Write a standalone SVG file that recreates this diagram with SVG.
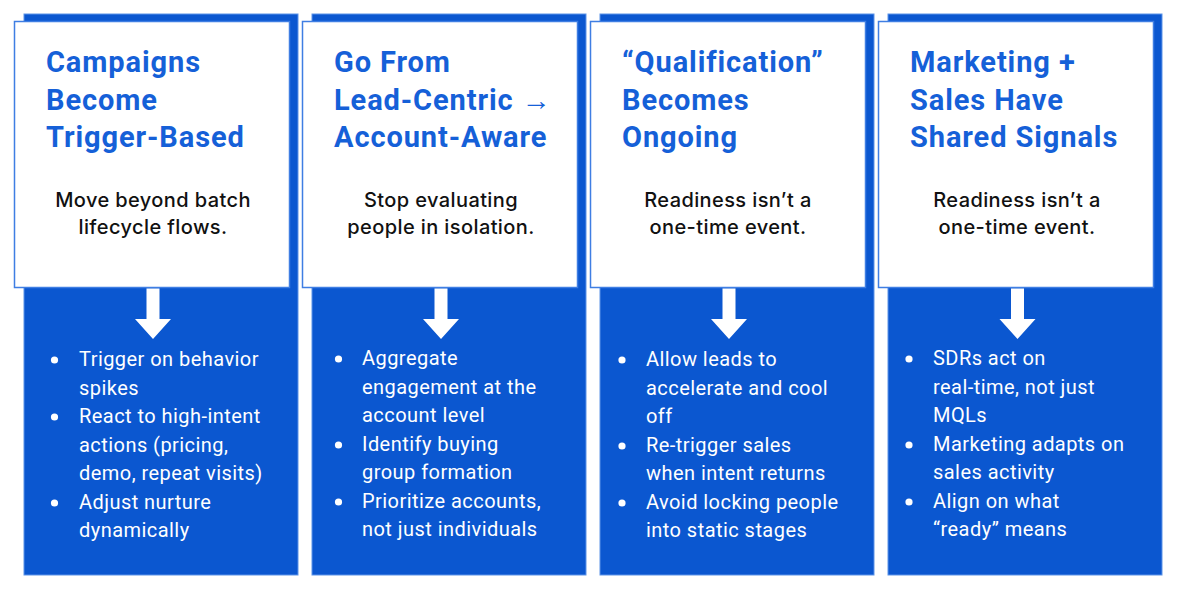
<svg xmlns="http://www.w3.org/2000/svg" width="1180" height="591" viewBox="0 0 1180 591">
<style>
.bg{fill:#0b57d0;stroke:#5d93e8;stroke-width:1}
.card{fill:#ffffff;stroke:#3f7ee3;stroke-width:1.5}
.title{font-family:Roboto,"Liberation Sans",sans-serif;font-weight:700;font-size:29px;letter-spacing:0.9px;fill:#1560d8}
.sub{font-family:Inter,Roboto,"Liberation Sans",sans-serif;font-weight:500;font-size:20px;letter-spacing:0.4px;fill:#111111;text-anchor:middle}
.item{font-family:Roboto,"Liberation Sans",sans-serif;font-weight:400;font-size:20px;letter-spacing:0.45px;fill:#ffffff}
.dot{fill:#ffffff}
.arrow{fill:#ffffff}
</style>
<rect width="1180" height="591" fill="#ffffff"/>

<g id="col1">
<rect class="bg" x="24" y="14" width="274" height="561"/>
<rect class="card" x="14.5" y="21.5" width="275" height="266"/>
<text class="title"><tspan x="46" y="72">Campaigns</tspan><tspan x="46" y="109.5">Become</tspan><tspan x="46" y="147">Trigger-Based</tspan></text>
<text class="sub"><tspan x="153" y="207">Move beyond batch</tspan><tspan x="153" y="234">lifecycle flows.</tspan></text>
<g>
<circle class="dot" cx="54.5" cy="360" r="3.6"/>
<circle class="dot" cx="54.5" cy="417" r="3.6"/>
<circle class="dot" cx="54.5" cy="503" r="3.6"/>
<text class="item"><tspan x="79" y="366">Trigger on behavior</tspan><tspan x="79" y="394.5">spikes</tspan><tspan x="79" y="423">React to high-intent</tspan><tspan x="79" y="451.5">actions (pricing,</tspan><tspan x="79" y="480">demo, repeat visits)</tspan><tspan x="79" y="508.5">Adjust nurture</tspan><tspan x="79" y="537">dynamically</tspan></text>
</g>
</g>

<g id="col2">
<rect class="bg" x="312" y="14" width="274" height="561"/>
<rect class="card" x="302.5" y="21.5" width="275" height="266"/>
<text class="title"><tspan x="334" y="72">Go From</tspan><tspan x="334" y="109.5">Lead-Centric →</tspan><tspan x="334" y="147">Account-Aware</tspan></text>
<text class="sub"><tspan x="441" y="207">Stop evaluating</tspan><tspan x="441" y="234">people in isolation.</tspan></text>
<g>
<circle class="dot" cx="338.5" cy="359" r="3.6"/>
<circle class="dot" cx="338.5" cy="445" r="3.6"/>
<circle class="dot" cx="338.5" cy="502" r="3.6"/>
<text class="item"><tspan x="362" y="365">Aggregate</tspan><tspan x="362" y="393.5">engagement at the</tspan><tspan x="362" y="422">account level</tspan><tspan x="362" y="450.5">Identify buying</tspan><tspan x="362" y="479">group formation</tspan><tspan x="362" y="507.5">Prioritize accounts,</tspan><tspan x="362" y="536">not just individuals</tspan></text>
</g>
</g>

<g id="col3">
<rect class="bg" x="600" y="14" width="274" height="561"/>
<rect class="card" x="590.5" y="21.5" width="275" height="266"/>
<text class="title"><tspan x="622" y="72">“Qualification”</tspan><tspan x="622" y="109.5">Becomes</tspan><tspan x="622" y="147">Ongoing</tspan></text>
<text class="sub"><tspan x="728" y="207">Readiness isn’t a</tspan><tspan x="728" y="234">one-time event.</tspan></text>
<g>
<circle class="dot" cx="622" cy="360" r="3.6"/>
<circle class="dot" cx="622" cy="446" r="3.6"/>
<circle class="dot" cx="622" cy="503" r="3.6"/>
<text class="item"><tspan x="646" y="366">Allow leads to</tspan><tspan x="646" y="394.5">accelerate and cool</tspan><tspan x="646" y="423">off</tspan><tspan x="646" y="451.5">Re-trigger sales</tspan><tspan x="646" y="480">when intent returns</tspan><tspan x="646" y="508.5">Avoid locking people</tspan><tspan x="646" y="537">into static stages</tspan></text>
</g>
</g>

<g id="col4">
<rect class="bg" x="888" y="14" width="274" height="561"/>
<rect class="card" x="878.5" y="21.5" width="275" height="266"/>
<text class="title"><tspan x="910" y="72">Marketing +</tspan><tspan x="910" y="109.5">Sales Have</tspan><tspan x="910" y="147">Shared Signals</tspan></text>
<text class="sub"><tspan x="1017" y="207">Readiness isn’t a</tspan><tspan x="1017" y="234">one-time event.</tspan></text>
<g>
<circle class="dot" cx="909" cy="359" r="3.6"/>
<circle class="dot" cx="909" cy="445" r="3.6"/>
<circle class="dot" cx="909" cy="502" r="3.6"/>
<text class="item"><tspan x="933" y="365">SDRs act on</tspan><tspan x="933" y="393.5">real-time, not just</tspan><tspan x="933" y="422">MQLs</tspan><tspan x="933" y="450.5">Marketing adapts on</tspan><tspan x="933" y="479">sales activity</tspan><tspan x="933" y="507.5">Align on what</tspan><tspan x="933" y="536">“ready” means</tspan></text>
</g>
</g>

<g id="connectors">
<polygon class="arrow" points="146.5,288.5 159.5,288.5 159.5,319 171,319 153,339 135,319 146.5,319"/>
<polygon class="arrow" points="434.5,288.5 447.5,288.5 447.5,319 459,319 441,339 423,319 434.5,319"/>
<polygon class="arrow" points="722.5,288.5 735.5,288.5 735.5,319 747,319 729,339 711,319 722.5,319"/>
<polygon class="arrow" points="1011,288.5 1024,288.5 1024,319 1035.5,319 1017.5,339 999.5,319 1011,319"/>
</g>
</svg>
